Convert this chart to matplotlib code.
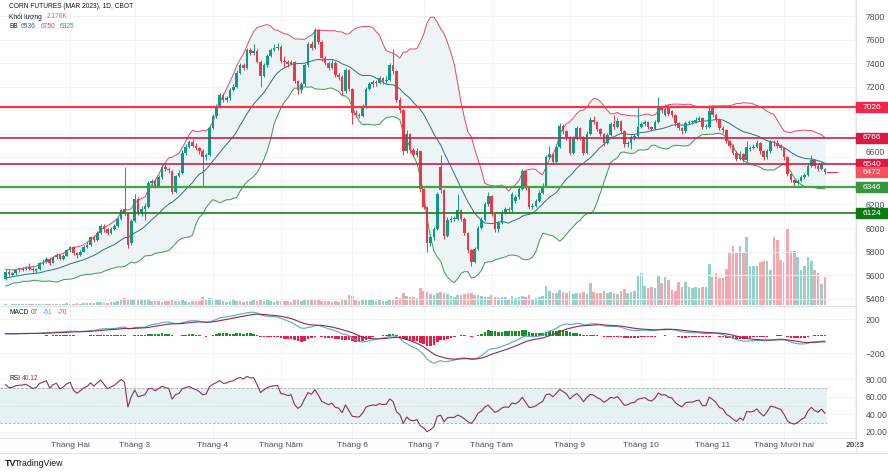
import numpy as np
import pandas as pd
import matplotlib
matplotlib.use("Agg")
import matplotlib.pyplot as plt
import matplotlib.transforms as mtransforms
from matplotlib.patches import Rectangle
from matplotlib.lines import Line2D
from matplotlib import font_manager

_names = {f.name for f in font_manager.fontManager.ttflist}
FONT = "Liberation Sans Narrow" if "Liberation Sans Narrow" in _names else "Liberation Sans"
plt.rcParams["font.family"] = [FONT, "DejaVu Sans"]

# ---------------- data ----------------
holidays = ["2022-01-17", "2022-02-21", "2022-04-15", "2022-05-30",
            "2022-06-20", "2022-07-04", "2022-09-05", "2022-11-24"]

warmup_close = [5480, 5520, 5500, 5540, 5560, 5530, 5570, 5590, 5560, 5600,
                5620, 5580, 5560, 5600, 5630, 5610, 5580, 5560, 5590, 5600]

open_ = [
    5570, 5630, 5605, 5615, 5640, 5645, 5650, 5665, 5650, 5635,
    5650, 5700, 5715, 5740, 5705, 5750, 5770, 5740, 5765, 5810,
    5835, 5790, 5770, 5800, 5840, 5860, 5920, 5900, 5960, 6020,
    5990, 5960, 5990, 6020, 6080, 6160, 6120, 5870, 6060, 6250,
    6130, 6160, 6180, 6380, 6400, 6360, 6430, 6520, 6500, 6480,
    6310, 6440, 6470, 6640, 6690, 6730, 6700, 6680, 6650, 6600,
    6620, 6850, 6950, 7030, 7130, 7090, 7100, 7170, 7200, 7320,
    7380, 7360, 7510, 7490, 7500, 7410, 7290, 7380, 7460, 7510,
    7525, 7540, 7420, 7410, 7390, 7410, 7250, 7170, 7220, 7380,
    7560, 7530, 7680, 7580, 7440, 7400, 7360, 7400, 7300, 7280,
    7160, 7340, 7180, 6980, 6960, 6950, 7030, 7180, 7220, 7240,
    7230, 7270, 7250, 7260, 7380, 7330, 7090, 7000, 6650, 6800,
    6660, 6620, 6650, 6330, 6180, 5870, 5920, 5990, 6520, 6320,
    5930, 6070, 6080, 6080, 6150, 6080, 5960, 5810, 5710, 5820,
    6000, 6070, 6200, 6270, 6120, 5990, 6040, 6130, 6160, 6150,
    6230, 6260, 6330, 6480, 6340, 6180, 6190, 6230, 6300, 6360,
    6600, 6630, 6560, 6690, 6870, 6820, 6770, 6640, 6760, 6850,
    6770, 6640, 6800, 6920, 6900, 6840, 6800, 6720, 6790, 6880,
    6860, 6910, 6820, 6710, 6720, 6770, 6780, 6860, 6880, 6900,
    6860, 6840, 6900, 7030, 6960, 7040, 6990, 6960, 6890, 6850,
    6820, 6890, 6900, 6900, 6920, 6930, 6860, 6860, 7020, 6960,
    6920, 6850, 6830, 6740, 6700, 6640, 6590, 6630, 6580, 6670,
    6680, 6690, 6720, 6650, 6600, 6650, 6730, 6720, 6700, 6680,
    6600, 6460, 6410, 6380, 6400, 6430, 6450, 6530, 6580, 6530,
    6500, 6500]

high = [
    5640, 5645, 5630, 5655, 5660, 5665, 5675, 5700, 5665, 5660,
    5710, 5735, 5755, 5750, 5765, 5785, 5780, 5780, 5825, 5850,
    5845, 5800, 5815, 5855, 5880, 5935, 5940, 5975, 6035, 6030,
    6000, 6005, 6035, 6095, 6165, 6520, 6135, 6080, 6290, 6260,
    6190, 6210, 6400, 6420, 6420, 6450, 6540, 6540, 6520, 6490,
    6450, 6490, 6660, 6710, 6750, 6760, 6720, 6690, 6670, 6640,
    6870, 6970, 7050, 7150, 7150, 7120, 7190, 7220, 7340, 7400,
    7400, 7530, 7530, 7560, 7520, 7430, 7400, 7480, 7530, 7560,
    7570, 7550, 7460, 7430, 7430, 7420, 7260, 7240, 7400, 7580,
    7590, 7700, 7690, 7600, 7460, 7420, 7430, 7420, 7320, 7300,
    7360, 7350, 7190, 7000, 6980, 7050, 7200, 7240, 7260, 7260,
    7290, 7280, 7290, 7400, 7520, 7340, 7110, 7010, 6830, 6810,
    6680, 6680, 6660, 6340, 6190, 5950, 6010, 6310, 6620, 6330,
    6090, 6100, 6100, 6290, 6160, 6090, 5970, 5820, 5840, 6020,
    6090, 6220, 6310, 6280, 6130, 6060, 6150, 6180, 6180, 6310,
    6280, 6350, 6500, 6490, 6350, 6210, 6250, 6320, 6380, 6620,
    6700, 6640, 6710, 6890, 6880, 6830, 6780, 6780, 6870, 6860,
    6780, 6820, 6940, 6950, 6910, 6850, 6810, 6810, 6900, 6960,
    6930, 6920, 6830, 6740, 6790, 6800, 7030, 6900, 6920, 6910,
    6870, 6920, 7115, 7040, 7050, 7050, 7000, 6970, 6900, 6860,
    6910, 6920, 6920, 6940, 6950, 6940, 6880, 7045, 7040, 6980,
    6930, 6870, 6840, 6750, 6710, 6650, 6650, 6640, 6740, 6700,
    6710, 6745, 6730, 6660, 6670, 6750, 6750, 6745, 6710, 6690,
    6610, 6470, 6420, 6420, 6450, 6470, 6550, 6620, 6590, 6540,
    6560, 6510]

low = [
    5560, 5595, 5595, 5605, 5625, 5635, 5640, 5640, 5625, 5620,
    5640, 5690, 5705, 5690, 5700, 5740, 5730, 5730, 5760, 5800,
    5775, 5745, 5760, 5795, 5830, 5850, 5885, 5890, 5950, 5970,
    5945, 5950, 5980, 6010, 6070, 6110, 5830, 5860, 6050, 6110,
    6100, 6070, 6170, 6360, 6340, 6350, 6420, 6480, 6470, 6290,
    6300, 6430, 6460, 6620, 6680, 6690, 6660, 6630, 6350, 6580,
    6610, 6840, 6930, 7020, 7070, 7070, 7090, 7160, 7190, 7310,
    7340, 7350, 7470, 7470, 7400, 7200, 7280, 7370, 7450, 7500,
    7510, 7400, 7370, 7370, 7380, 7230, 7140, 7150, 7210, 7370,
    7510, 7520, 7560, 7420, 7380, 7340, 7350, 7280, 7260, 7130,
    7150, 7160, 6880, 6940, 6930, 6940, 7020, 7170, 7200, 7210,
    7220, 7220, 7230, 7250, 7310, 7070, 6980, 6620, 6640, 6640,
    6600, 6600, 6310, 6160, 5800, 5850, 5900, 5980, 6300, 5910,
    5920, 6050, 6060, 6070, 6060, 5940, 5790, 5680, 5700, 5810,
    5990, 6060, 6190, 6100, 5970, 5970, 6030, 6120, 6130, 6140,
    6210, 6250, 6320, 6320, 6160, 6160, 6180, 6220, 6290, 6350,
    6590, 6540, 6550, 6680, 6800, 6750, 6620, 6630, 6750, 6750,
    6620, 6630, 6790, 6880, 6820, 6780, 6700, 6710, 6780, 6840,
    6850, 6800, 6690, 6690, 6670, 6750, 6770, 6850, 6870, 6840,
    6820, 6830, 6890, 6980, 6950, 6950, 6940, 6870, 6830, 6800,
    6810, 6880, 6880, 6890, 6910, 6840, 6840, 6850, 6940, 6900,
    6830, 6810, 6720, 6680, 6620, 6570, 6580, 6560, 6570, 6650,
    6670, 6680, 6630, 6580, 6590, 6640, 6700, 6680, 6660, 6580,
    6440, 6390, 6360, 6365, 6390, 6420, 6440, 6520, 6510, 6480,
    6490, 6455]

close = [
    5630, 5610, 5615, 5640, 5645, 5650, 5660, 5650, 5640, 5650,
    5700, 5715, 5740, 5705, 5750, 5770, 5740, 5765, 5810, 5835,
    5790, 5770, 5800, 5840, 5860, 5920, 5900, 5960, 6020, 5990,
    5960, 5990, 6020, 6080, 6150, 6130, 5860, 6060, 6250, 6130,
    6160, 6190, 6380, 6400, 6360, 6430, 6520, 6500, 6490, 6310,
    6440, 6470, 6640, 6690, 6730, 6700, 6680, 6650, 6600, 6620,
    6850, 6950, 7030, 7130, 7090, 7100, 7170, 7200, 7320, 7380,
    7360, 7510, 7490, 7500, 7410, 7290, 7380, 7460, 7510, 7525,
    7540, 7420, 7410, 7390, 7410, 7250, 7170, 7220, 7380, 7560,
    7530, 7680, 7580, 7440, 7400, 7360, 7400, 7300, 7280, 7160,
    7340, 7180, 6980, 6960, 6950, 7030, 7180, 7220, 7240, 7230,
    7270, 7250, 7260, 7380, 7330, 7090, 7000, 6650, 6800, 6660,
    6620, 6650, 6330, 6180, 5870, 5920, 5990, 6290, 6320, 5930,
    6070, 6080, 6080, 6150, 6080, 5960, 5810, 5710, 5820, 6000,
    6070, 6200, 6270, 6120, 5990, 6040, 6130, 6160, 6150, 6290,
    6260, 6330, 6480, 6340, 6180, 6190, 6230, 6300, 6360, 6600,
    6630, 6560, 6690, 6870, 6820, 6770, 6640, 6760, 6850, 6770,
    6640, 6800, 6920, 6900, 6840, 6800, 6720, 6790, 6880, 6860,
    6910, 6820, 6710, 6720, 6770, 6780, 6860, 6880, 6900, 6860,
    6840, 6900, 7030, 7000, 7010, 6970, 6960, 6890, 6850, 6820,
    6890, 6900, 6900, 6920, 6930, 6860, 6860, 6990, 6960, 6920,
    6850, 6830, 6740, 6700, 6640, 6590, 6630, 6580, 6690, 6680,
    6690, 6720, 6650, 6600, 6650, 6730, 6720, 6700, 6680, 6600,
    6460, 6410, 6380, 6400, 6430, 6450, 6530, 6580, 6530, 6500,
    6540, 6472]

volume_k = [
    0.04, 0.03, 0.05, 0.04, 0.06, 0.05, 0.04, 0.05, 0.06, 0.05,
    0.07, 0.06, 0.08, 0.07, 0.08, 0.09, 0.08, 0.10, 0.12, 0.11,
    0.10, 0.12, 0.09, 0.14, 0.12, 0.18, 0.15, 0.20, 0.22, 0.17,
    0.15, 0.20, 0.24, 0.30, 0.36, 0.55, 0.50, 0.42, 0.45, 0.40,
    0.48, 0.35, 0.42, 0.30, 0.28, 0.30, 0.25, 0.32, 0.28, 0.45,
    0.30, 0.28, 0.35, 0.30, 0.25, 0.30, 0.28, 0.32, 0.60, 0.35,
    0.55, 0.45, 0.40, 0.38, 0.30, 0.25, 0.30, 0.35, 0.28, 0.30,
    0.25, 0.30, 0.28, 0.35, 0.30, 0.40, 0.32, 0.35, 0.28, 0.25,
    0.30, 0.32, 0.28, 0.30, 0.25, 0.42, 0.38, 0.30, 0.35, 0.40,
    0.35, 0.45, 0.38, 0.32, 0.30, 0.28, 0.25, 0.30, 0.22, 0.35,
    0.40, 0.80, 0.70, 0.45, 0.30, 0.35, 0.40, 0.38, 0.35, 0.30,
    0.35, 0.28, 0.30, 0.40, 0.45, 0.60, 0.55, 0.90, 0.70, 0.65,
    0.60, 0.55, 1.30, 1.10, 1.00, 0.85, 0.80, 0.90, 1.00, 0.95,
    0.85, 0.70, 0.65, 0.80, 0.75, 0.85, 0.90, 0.95, 0.80, 0.75,
    0.70, 0.60, 0.65, 0.75, 0.60, 0.55, 0.60, 0.65, 0.50, 0.70,
    0.55, 0.60, 0.70, 0.65, 0.80, 0.50, 0.55, 0.60, 0.70, 1.50,
    1.10, 0.90, 0.95, 1.15, 1.00, 0.90, 1.10, 0.85, 0.95, 0.90,
    1.00, 0.85, 1.70, 1.00, 0.90, 0.95, 1.10, 0.90, 1.00, 0.95,
    0.85, 1.10, 1.20, 0.90, 1.00, 1.10, 2.30, 2.50, 1.50, 1.30,
    1.40, 1.30, 2.30, 1.70, 2.20, 1.90, 1.15, 1.10, 1.80, 1.40,
    1.80, 1.40, 1.30, 1.40, 1.35, 1.40, 1.40, 3.20, 2.20, 2.50,
    2.10, 2.10, 2.80, 4.10, 4.60, 4.00, 4.60, 4.00, 5.30, 3.00,
    3.00, 3.00, 3.30, 3.40, 3.40, 2.70, 5.30, 5.00, 3.50, 3.30,
    5.90, 4.20, 4.20, 3.70, 2.70, 3.00, 3.70, 3.40, 2.70, 2.50,
    1.60, 2.176]

month_labels = ["Tháng Hai", "Tháng 3", "Tháng 4", "Tháng Năm", "Tháng 6",
                "Tháng 7", "Tháng Tám", "Tháng 9", "Tháng 10", "Tháng 11",
                "Tháng Mười hai"]
year_label = "2023"

price_ticks = [5400, 5600, 5800, 6000, 6200, 6400, 6600, 6800, 7000, 7200, 7400, 7600, 7800]
price_tick_labels = ["5400", "5600", "5800", "6000", "6200", "", "6600", "", "", "7200", "7400", "7600", "7800"]

levels = [7026, 6766, 6540, 6346, 6124]
level_labels = ["7026", "6766", "6540", "6346", "6124"]
last_price = 6472
last_label = "6472"

# ---------------- derived ----------------
dates = pd.bdate_range("2022-01-04", "2022-12-19")
dates = dates[~dates.isin(pd.to_datetime(holidays))]
n = len(dates)
x = np.arange(n)
o = np.array(open_, float); h = np.array(high, float)
l = np.array(low, float); c = np.array(close, float)
v = np.array(volume_k, float)
up = c >= o

month_idx = [int(np.argmax(dates.month == m)) for m in range(2, 13)]
fut = pd.bdate_range("2022-12-20", "2023-01-03")
fut = fut[~fut.isin(pd.to_datetime(["2022-12-26", "2023-01-02"]))]
idx_2023 = n - 1 + len(fut)

s = pd.Series(list(warmup_close) + list(close), dtype=float)
k = len(warmup_close)
basis = s.rolling(20).mean()
sd = s.rolling(20).std(ddof=0)
bb_up = (basis + 2 * sd).values[k:]
bb_lo = (basis - 2 * sd).values[k:]
bb_mid = basis.values[k:]
ema12 = s.ewm(span=12, adjust=False).mean()
ema26 = s.ewm(span=26, adjust=False).mean()
macd = ema12 - ema26
sig = macd.ewm(span=9, adjust=False).mean()
hist = (macd - sig).values[k:]
macd_v = macd.values[k:]; sig_v = sig.values[k:]
d = s.diff()
ag = d.clip(lower=0).ewm(alpha=1 / 14, adjust=False).mean()
al = (-d.clip(upper=0)).ewm(alpha=1 / 14, adjust=False).mean()
rsi = (100 - 100 / (1 + ag / al)).values[k:]

# ---------------- figure ----------------
W, H = 888, 472
def fy(py):
    return 1 - py / H

fig = plt.figure(figsize=(W / 100, H / 100), dpi=100)
fig.patch.set_facecolor("white")
AXW = 856 / W
main = fig.add_axes([0, fy(306), AXW, 306 / H])
macd_ax = fig.add_axes([0, fy(370), AXW, 64 / H], sharex=main)
rsi_ax = fig.add_axes([0, fy(438), AXW, 68 / H], sharex=main)
vol = main.twinx()
vol.set_zorder(0)
main.set_zorder(1)
main.patch.set_visible(False)

XL = (-1.62, 250.15)
main.set_xlim(*XL)
main.set_ylim(5338, 7936)
vol.set_ylim(-0.08, 23.64)
vol.axis("off")

GRID = "#f0f2f6"
SEP = "#e0e3eb"
TXT = "#4c4f59"
UPC = "#0c9c84"
DNC = "#f23645"

for ax in (main, macd_ax, rsi_ax):
    for sp in ("top", "left"):
        ax.spines[sp].set_visible(False)
    for sp in ("right", "bottom"):
        ax.spines[sp].set_color(SEP)
        ax.spines[sp].set_linewidth(0.8)
    ax.yaxis.tick_right()
    ax.tick_params(axis="y", length=0, pad=7, labelsize=6.2, labelcolor=TXT)
    ax.tick_params(axis="x", length=0)
    ax.set_xticks(month_idx + [idx_2023])
    ax.grid(True, color=GRID, lw=0.7, zorder=0)
    ax.set_axisbelow(True)
main.tick_params(axis="x", labelbottom=False)
macd_ax.tick_params(axis="x", labelbottom=False)

# volume
vol.bar(x, v, width=0.72, color=np.where(up, "#93d1ca", "#f6a6ac"), linewidth=0)

# bollinger
main.fill_between(x, bb_lo, bb_up, color="#ecf4f5", zorder=1, linewidth=0)
main.plot(x, bb_up, color="#e0486a", lw=0.7, zorder=2)
main.plot(x, bb_lo, color="#3f9a4e", lw=0.7, zorder=2)
main.plot(x, bb_mid, color="#2d6f8a", lw=0.7, zorder=2)

# candles
cols = np.where(up, UPC, DNC)
main.vlines(x, l, h, colors=cols, lw=0.7, zorder=3)
body = np.maximum(np.abs(c - o), 8)
main.bar(x, body, bottom=np.minimum(o, c), width=0.72, color=cols, linewidth=0, zorder=3.5)

# horizontal levels
lvl_line_cols = ["#f23645", "#cc1f4d", "#cc1f4d", "#43a047", "#1b7a1e"]
lvl_box_cols = ["#ee2849", "#d81b45", "#d81b45", "#37953b", "#0d7a12"]
lvl_lw = [1.6, 1.2, 1.2, 1.6, 1.2]
for lv, lc, lw in zip(levels, lvl_line_cols, lvl_lw):
    main.axhline(lv, color=lc, lw=lw, zorder=5)
main.plot([x[-1] + 0.6, x[-1] + 3.5], [last_price, last_price], color=DNC, lw=0.8, zorder=5)

main.set_yticks(price_ticks)
main.set_yticklabels(price_tick_labels)
for t in main.get_yticklabels():
    if t.get_text() == "6600":
        t.set_va("bottom")
blend = mtransforms.blended_transform_factory(main.transAxes, main.transData)
bh = 10 / 0.1178
for lv, lab, bc in list(zip(levels, level_labels, lvl_box_cols)) + [(last_price, last_label, "#f5525e")]:
    main.add_patch(Rectangle((1.0, lv - bh / 2), 32 / 856, bh, transform=blend,
                             color=bc, clip_on=False, zorder=10))
    main.text(872 / 856, lv, lab, transform=blend, ha="center", va="center",
              color="white", fontsize=6.0, zorder=11, clip_on=False)

# MACD
macd_ax.set_ylim(-400, 353)
macd_ax.bar(x, hist, width=0.72, color=np.where(hist >= 0, "#1b8f27", "#ea1d48"), linewidth=0, zorder=2)
macd_ax.plot(x, macd_v, color="#55a9c8", lw=0.8, zorder=3)
macd_ax.plot(x, sig_v, color="#8a2c4e", lw=0.8, zorder=3)
macd_ax.set_yticks([-200, 200])
macd_ax.set_yticklabels(["\u2212200", "200"])

# RSI
rsi_ax.set_ylim(13.2, 90.2)
xfrac = (x[-1] + 0.5 - XL[0]) / (XL[1] - XL[0])
rsi_ax.fill_between([XL[0], x[-1] + 0.5], 30, 70, color="#e6f1f4", zorder=1, linewidth=0)
for yv in (70, 30):
    rsi_ax.axhline(yv, color="#a3a8b0", lw=0.6, ls=(0, (3, 2)), xmax=xfrac, zorder=2)
rsi_ax.axhline(50, color="#c5cad1", lw=0.5, ls=(0, (1, 2)), xmax=xfrac, zorder=2)
rsi_ax.plot(x, rsi, color="#8e2f5e", lw=0.8, zorder=3)
rsi_ax.set_yticks([20, 40, 60, 80])
rsi_ax.set_yticklabels(["20.00", "40.00", "60.00", "80.00"])
rsi_ax.set_xlim(*XL)
rsi_ax.set_xticks(month_idx + [idx_2023])
rsi_ax.set_xticklabels(month_labels + [year_label])
rsi_ax.tick_params(axis="x", labelsize=6, labelcolor=TXT, pad=3)
rsi_ax.get_xticklabels()[-1].set_fontweight("bold")

# legends / titles
LFS = 4.8
def ftxt(px, py, s, color="#131722", **kw):
    fig.text(px / W, fy(py), s, color=color, fontsize=LFS, va="center", ha="left", **kw)

ftxt(9, 7, "CORN FUTURES (MAR 2023), 1D, CBOT")
ftxt(9, 17, "Khối lượng")
ftxt(47, 17, "2.176K", color="#f05a62")
ftxt(9, 27, "BB")
ftxt(21, 27, "6536", color="#2d6f8a")
ftxt(41, 27, "6750", color="#e0486a")
ftxt(60, 27, "6325", color="#3f9a4e")
ftxt(9, 313, "MACD")
ftxt(31, 313, "07", color="#1b8f27")
ftxt(43, 313, "-61", color="#3d9fc0")
ftxt(58, 313, "-70", color="#e0345a")
ftxt(9, 378, "RSI")
ftxt(22, 378, "40.12", color="#8e2f5e")

# frame lines outside axes
fig.add_artist(Line2D([0, 1], [fy(453), fy(453)], color=SEP, lw=0.8, transform=fig.transFigure))
fig.add_artist(Line2D([AXW, AXW], [fy(438), fy(453)], color=SEP, lw=0.8, transform=fig.transFigure))
fig.text(5 / W, fy(463), "TV", fontsize=6.5, fontweight="bold", color="#131722", va="center")
fig.text(15 / W, fy(463), "TradingView", fontsize=6.3, color="#131722", va="center")

fig.savefig("out.png", dpi=100)
